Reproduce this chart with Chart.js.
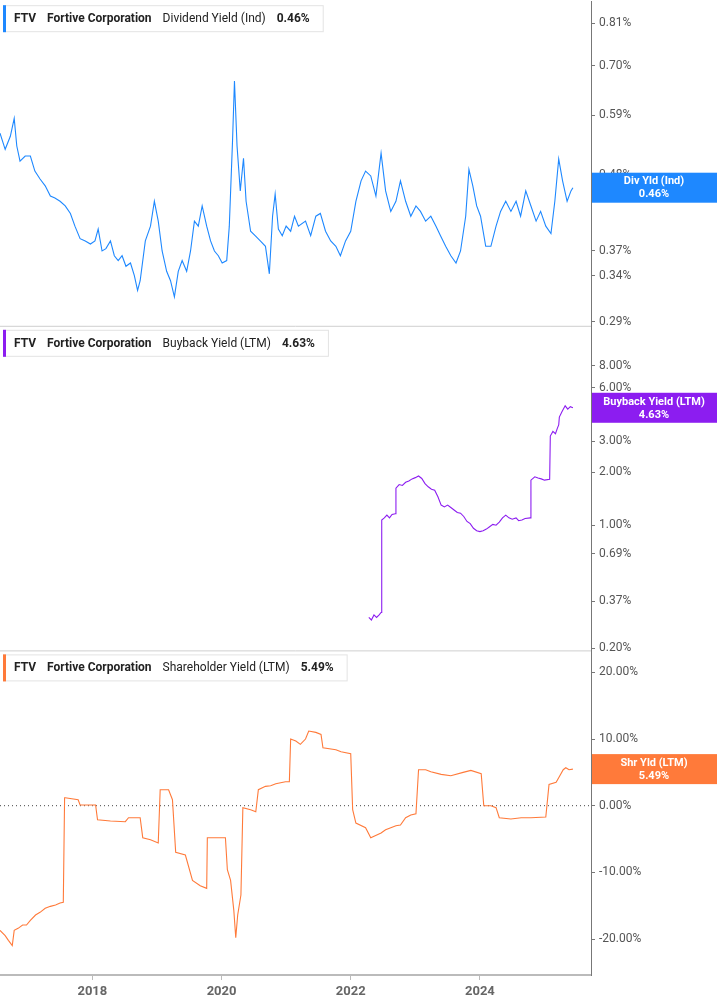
<!DOCTYPE html>
<html><head><meta charset="utf-8">
<script src="https://cdn.jsdelivr.net/npm/chart.js@4"></script>
<style>html,body{margin:0;padding:0;background:#fff;overflow:hidden}#wrap{width:717px;height:1005px;position:relative;overflow:hidden}#c{position:absolute;left:0;top:-10px}</style>
</head><body><div id="wrap"><canvas id="c" width="717" height="1015"></canvas></div>
<script>
const xTicks = [2018, 2020, 2022, 2024];
const divTicks = [0.29, 0.34, 0.37, 0.48, 0.59, 0.70, 0.81];
const bbTicks = [0.20, 0.37, 0.69, 1.00, 2.00, 3.00, 6.00, 8.00];
const shTicks = [-20, -10, 0, 10, 20];

const divDates = [2016.57,2016.65,2016.73,2016.79,2016.83,2016.88,2016.96,2017.04,2017.11,2017.19,2017.27,2017.35,2017.42,2017.50,2017.58,2017.66,2017.73,2017.81,2017.89,2017.97,2018.04,2018.09,2018.15,2018.21,2018.28,2018.34,2018.40,2018.46,2018.52,2018.59,2018.65,2018.70,2018.74,2018.82,2018.90,2018.96,2019.02,2019.08,2019.15,2019.21,2019.27,2019.33,2019.39,2019.46,2019.52,2019.58,2019.64,2019.70,2019.77,2019.83,2019.89,2019.95,2020.01,2020.08,2020.12,2020.17,2020.20,2020.24,2020.29,2020.34,2020.38,2020.45,2020.52,2020.60,2020.68,2020.74,2020.79,2020.83,2020.88,2020.94,2021.00,2021.07,2021.13,2021.19,2021.30,2021.38,2021.46,2021.53,2021.61,2021.69,2021.77,2021.84,2021.92,2022.00,2022.08,2022.16,2022.23,2022.31,2022.39,2022.47,2022.54,2022.62,2022.70,2022.77,2022.85,2022.93,2023.01,2023.08,2023.16,2023.24,2023.32,2023.39,2023.47,2023.55,2023.63,2023.70,2023.78,2023.83,2023.89,2023.95,2024.01,2024.09,2024.17,2024.25,2024.32,2024.40,2024.48,2024.56,2024.63,2024.71,2024.79,2024.87,2024.94,2025.02,2025.10,2025.16,2025.22,2025.28,2025.35,2025.41,2025.44];
const divValues = [0.555,0.525,0.549,0.584,0.531,0.504,0.513,0.513,0.487,0.474,0.463,0.447,0.444,0.439,0.432,0.421,0.403,0.386,0.383,0.379,0.383,0.399,0.370,0.373,0.383,0.364,0.358,0.364,0.351,0.355,0.340,0.323,0.334,0.383,0.403,0.439,0.410,0.370,0.345,0.334,0.316,0.345,0.358,0.345,0.370,0.410,0.403,0.432,0.403,0.383,0.370,0.364,0.355,0.358,0.403,0.540,0.664,0.531,0.455,0.509,0.439,0.396,0.390,0.383,0.376,0.342,0.417,0.450,0.399,0.390,0.403,0.396,0.417,0.403,0.410,0.390,0.417,0.421,0.396,0.383,0.376,0.364,0.383,0.396,0.439,0.471,0.487,0.479,0.447,0.518,0.455,0.424,0.439,0.471,0.439,0.417,0.432,0.424,0.410,0.417,0.403,0.390,0.376,0.364,0.355,0.370,0.417,0.490,0.463,0.432,0.417,0.376,0.376,0.403,0.424,0.439,0.424,0.439,0.417,0.455,0.432,0.410,0.424,0.403,0.393,0.439,0.508,0.471,0.439,0.455,0.460];

const bbDates = [2022.28,2022.32,2022.36,2022.40,2022.44,2022.47,2022.48,2022.52,2022.56,2022.60,2022.64,2022.69,2022.70,2022.75,2022.80,2022.85,2022.90,2022.95,2023.00,2023.05,2023.10,2023.15,2023.20,2023.25,2023.30,2023.35,2023.40,2023.45,2023.50,2023.55,2023.60,2023.65,2023.70,2023.75,2023.80,2023.85,2023.90,2023.95,2024.00,2024.05,2024.10,2024.15,2024.20,2024.25,2024.30,2024.35,2024.40,2024.45,2024.50,2024.56,2024.60,2024.65,2024.70,2024.78,2024.79,2024.85,2024.90,2024.95,2025.00,2025.08,2025.09,2025.13,2025.17,2025.20,2025.22,2025.23,2025.27,2025.32,2025.36,2025.40,2025.44];
const bbValues = [0.30,0.29,0.31,0.30,0.31,0.32,1.07,1.10,1.14,1.10,1.15,1.16,1.62,1.70,1.68,1.75,1.78,1.83,1.86,1.90,1.84,1.72,1.65,1.60,1.58,1.45,1.30,1.27,1.30,1.26,1.22,1.18,1.17,1.12,1.05,1.02,0.96,0.93,0.92,0.93,0.95,0.98,1.01,1.00,1.04,1.10,1.14,1.10,1.08,1.10,1.06,1.07,1.09,1.10,1.80,1.88,1.85,1.83,1.80,1.82,3.20,3.40,3.30,3.55,3.70,4.10,4.40,4.75,4.55,4.70,4.63];

const shDates = [2016.57,2016.65,2016.70,2016.76,2016.79,2016.85,2016.92,2016.98,2017.04,2017.12,2017.19,2017.27,2017.35,2017.43,2017.50,2017.55,2017.57,2017.58,2017.78,2017.81,2018.05,2018.08,2018.28,2018.51,2018.56,2018.74,2018.78,2018.90,2019.02,2019.05,2019.18,2019.24,2019.29,2019.44,2019.55,2019.67,2019.77,2019.78,2020.06,2020.09,2020.14,2020.19,2020.22,2020.25,2020.30,2020.33,2020.45,2020.53,2020.57,2020.68,2020.76,2020.84,2020.99,2021.05,2021.07,2021.15,2021.22,2021.30,2021.35,2021.46,2021.54,2021.57,2021.77,2021.85,2022.00,2022.03,2022.08,2022.23,2022.31,2022.47,2022.54,2022.62,2022.70,2022.77,2022.85,2022.93,2023.01,2023.05,2023.16,2023.24,2023.40,2023.55,2023.74,2023.86,2024.02,2024.06,2024.17,2024.25,2024.30,2024.48,2024.64,2024.79,2025.02,2025.07,2025.18,2025.22,2025.29,2025.33,2025.38,2025.44];
const shValues = [-18.7,-19.5,-20.2,-21.0,-18.7,-18.4,-17.9,-17.9,-17.2,-16.4,-16.0,-15.4,-15.1,-14.9,-14.6,-14.5,1.2,1.2,0.9,0.1,0.1,-2.1,-2.3,-2.4,-1.8,-1.8,-4.8,-5.1,-5.6,2.4,2.4,0.9,-7.0,-7.4,-11.2,-12.0,-12.4,-4.8,-4.8,-9.6,-11.2,-15.7,-19.8,-16.4,-13.4,-0.3,-0.6,-0.9,2.4,2.9,3.0,3.3,3.6,3.6,10.0,9.7,9.2,10.0,11.2,11.0,10.7,8.7,8.4,8.1,7.8,-0.6,-2.6,-3.3,-4.8,-4.1,-3.6,-3.3,-3.0,-2.9,-1.8,-1.4,-1.2,5.4,5.4,5.1,4.7,4.5,5.0,5.3,4.8,0.0,0.0,-0.3,-1.8,-2.0,-1.8,-1.8,-1.7,3.2,3.5,4.2,5.4,5.7,5.4,5.49];

const pts = (d, v) => d.map((x, i) => ({x, y: v[i]}));
const BLUE = '#1e88ff', PURPLE = '#8c1df0', ORANGE = '#ff7a3a';
const F = 'Roboto, "Liberation Sans", sans-serif';

const panels = [
  {axis:'y1', color:BLUE, name:'Dividend Yield (Ind)', val:'0.46%', tag:'Div Yld (Ind)', last:0.46},
  {axis:'y2', color:PURPLE, name:'Buyback Yield (LTM)', val:'4.63%', tag:'Buyback Yield (LTM)', last:4.63},
  {axis:'y3', color:ORANGE, name:'Shareholder Yield (LTM)', val:'5.49%', tag:'Shr Yld (LTM)', last:5.49}
];

const overlay = {
  id:'overlay',
  afterDraw(chart){
    const ctx = chart.ctx, ca = chart.chartArea;
    ctx.save();
    ctx.strokeStyle = '#cfcfcf'; ctx.lineWidth = 1;
    ['y2','y3'].forEach(id => {
      const s = chart.scales[id];
      ctx.beginPath(); ctx.moveTo(ca.left, s.top + 0.5); ctx.lineTo(ca.right, s.top + 0.5); ctx.stroke();
    });
    panels.forEach(p => {
      const s = chart.scales[p.axis];
      const top = Math.max(s.top, 10) + 4, h = 26, x0 = 3;
      const parts = [['FTV','bold'],['Fortive Corporation','bold'],[p.name,'normal'],[p.val,'bold']];
      let x = x0 + 11;
      const pos = [];
      parts.forEach(([t,w]) => { ctx.font = w + ' 12px ' + F; pos.push(x); x += ctx.measureText(t).width + 11; });
      const wbox = x - x0 + 2;
      ctx.fillStyle = '#fff'; ctx.fillRect(x0, top, wbox, h);
      ctx.strokeStyle = '#e3e3e3'; ctx.strokeRect(x0 + 0.5, top + 0.5, wbox, h);
      ctx.fillStyle = p.color; ctx.fillRect(x0, top, 3, h + 1);
      ctx.fillStyle = '#222'; ctx.textBaseline = 'middle'; ctx.textAlign = 'left';
      parts.forEach(([t,w], i) => { ctx.font = w + ' 12px ' + F; ctx.fillText(t, pos[i], top + h/2 + 1); });
      const yc = s.getPixelForValue(p.last);
      ctx.fillStyle = p.color; ctx.fillRect(ca.right + 1, yc - 15, chart.width - ca.right, 30);
      ctx.fillStyle = '#fff'; ctx.textAlign = 'center'; ctx.font = 'bold 11px ' + F;
      const cx = (ca.right + chart.width) / 2;
      ctx.fillText(p.tag, cx, yc - 6); ctx.fillText(p.val, cx, yc + 7);
    });
    ctx.restore();
  }
};

const yBase = (min, max, ticks) => ({
  position:'right', stack:'s', stackWeight:1, min, max,
  border:{display:true, color:'#777', width:1},
  grid:{display:true, drawOnChartArea:false, drawTicks:true, tickLength:4, color:'#777'},
  ticks:{color:'#555', font:{family:F, size:12}, padding:4, callback:v => Number(v).toFixed(2) + '%', autoSkip:false},
  afterBuildTicks:s => { s.ticks = ticks.map(v => ({value:v})); },
  afterFit:s => { s.width = 126; }
});

const y1 = Object.assign(yBase(0.286, 0.874, divTicks), {type:'logarithmic', weight:1});
const y2 = Object.assign(yBase(0.195, 13.5, bbTicks), {type:'logarithmic', weight:2});
const y3 = Object.assign(yBase(-25.4, 23.3, shTicks), {type:'linear', weight:3});

new Chart(document.getElementById('c'), {
  type:'line',
  data:{datasets:[
    {data:pts(divDates, divValues), yAxisID:'y1', borderColor:BLUE, borderWidth:1.1, pointRadius:0},
    {data:pts(bbDates, bbValues), yAxisID:'y2', borderColor:PURPLE, borderWidth:1.1, pointRadius:0},
    {data:pts(shDates, shValues), yAxisID:'y3', borderColor:ORANGE, borderWidth:1.1, pointRadius:0},
    {data:[{x:2016.57,y:0},{x:2025.72,y:0}], yAxisID:'y3', borderColor:'#444', borderWidth:1, borderDash:[1,3], pointRadius:0}
  ]},
  options:{
    responsive:false, animation:false, events:[],
    layout:{padding:0},
    plugins:{legend:{display:false}, tooltip:{enabled:false}},
    scales:{
      x:{type:'linear', min:2016.57, max:2025.72,
         border:{display:true, color:'#bbb', width:2},
         grid:{display:true, drawOnChartArea:false, tickLength:5, color:'#bbb'},
         ticks:{color:'#666', font:{family:F, size:13, weight:'bold'}, padding:4, callback:v => String(v)},
         afterBuildTicks:s => { s.ticks = xTicks.map(v => ({value:v})); },
         afterFit:s => { s.height = 30; }},
      y1, y2, y3
    }
  },
  plugins:[overlay]
});
</script></body></html>
